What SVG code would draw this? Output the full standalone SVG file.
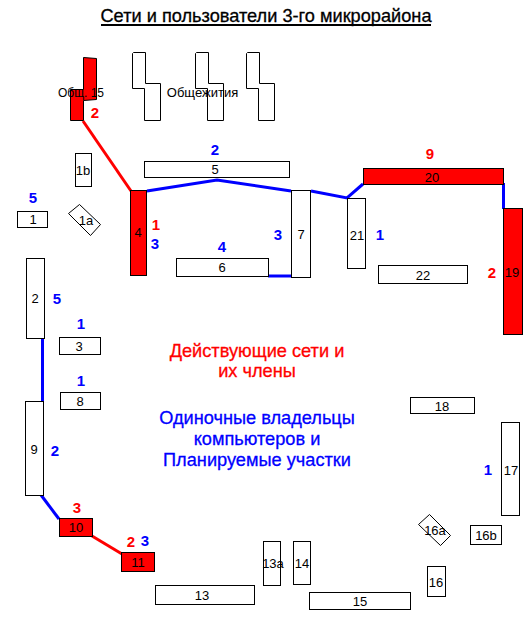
<svg xmlns="http://www.w3.org/2000/svg" width="531" height="620" viewBox="0 0 531 620">
<style>
text{font-family:"Liberation Sans",Arial,sans-serif;text-anchor:middle}
.n rect,.n polygon{fill:#fff;stroke:#000;stroke-width:1}
.r rect,.r polygon{fill:#f00}
.n text{font-size:13px;fill:#000}
.lb,.lr{font-size:15px;font-weight:bold}
.lb{fill:#00f}.lr{fill:#f00}
.big{font-size:18.2px;stroke-width:.3px}
.bb{fill:#00f;stroke:#00f}.br{fill:#f00;stroke:#f00}
.cb,.cr{fill:none;stroke-width:3}
.cb{stroke:#00f}.cr{stroke:#f00}
</style>
<rect width="531" height="620" fill="#fff"/>
<text id="title" class="big" x="266" y="22" fill="#000" stroke="#000">Сети и пользователи 3-го микрорайона</text>
<line x1="101" y1="25" x2="431" y2="25" stroke="#000" stroke-width="2"/>
<g id="connectors">
<path class="cr" d="M83 121L131 191"/>
<path class="cb" d="M147 191L217 180L291 191"/>
<path class="cb" d="M268 276H291"/>
<path class="cb" d="M311 191L347 198L363 184"/>
<path class="cb" d="M503.500 183V209"/>
<path class="cb" d="M42.500 339V402"/>
<path class="cb" d="M41 495L59 519"/>
<path class="cr" d="M92 536L122 554"/>
</g>
<g id="obsh15" class="n r"><polygon points="83.500,57.500 96.500,58.500 96.500,99.500 83.500,100.500 83.500,120.500 70.500,120.500 70.500,89.500 83.500,89.500"/><text x="81" y="97" style="font-size:12px">Общ. 15</text></g>
<g id="dorm1" class="n"><polygon points="132.500,53.500 133.500,52.500 145.500,52.500 145.500,83.500 160.500,83.500 160.500,120.500 144.500,120.500 144.500,88.500 132.500,88.500"/></g>
<g id="dorm2" class="n"><polygon points="195.500,53.500 196.500,52.500 208.500,52.500 208.500,83.500 223.500,83.500 223.500,120.500 207.500,120.500 207.500,88.500 195.500,88.500"/><text x="202.500" y="97">Общежития</text></g>
<g id="dorm3" class="n"><polygon points="246.500,53.500 247.500,52.500 259.500,52.500 259.500,83.500 274.500,83.500 274.500,120.500 258.500,120.500 258.500,88.500 246.500,88.500"/></g>
<g id="n1b" class="n"><rect x="75.500" y="153.500" width="16" height="33"/><text x="83" y="175">1b</text></g>
<g id="n5" class="n"><rect x="144.500" y="161.500" width="145" height="16"/><text x="215" y="174">5</text></g>
<g id="n1" class="n"><rect x="17.500" y="211.500" width="30" height="16"/><text x="33" y="224">1</text></g>
<g id="n1a" class="n"><polygon points="79.500,204.500 100.500,224.500 90.500,235.500 68.500,213.500"/><text x="86" y="225">1a</text></g>
<g id="n4" class="n r"><rect x="130.500" y="190.500" width="16" height="85"/><text x="138" y="237">4</text></g>
<g id="n6" class="n"><rect x="176.500" y="258.500" width="92" height="18"/><text x="222" y="272">6</text></g>
<g id="n7" class="n"><rect x="291.500" y="190.500" width="19" height="87"/><text x="301" y="239">7</text></g>
<g id="n21" class="n"><rect x="347.500" y="198.500" width="18" height="70"/><text x="357" y="240">21</text></g>
<g id="n20" class="n r"><rect x="363.500" y="168.500" width="140" height="16"/><text x="432" y="182">20</text></g>
<g id="n22" class="n"><rect x="378.500" y="265.500" width="89" height="18"/><text x="423" y="280">22</text></g>
<g id="n19" class="n r"><rect x="503.500" y="208.500" width="19" height="126"/><text x="512" y="277">19</text></g>
<g id="n2" class="n"><rect x="26.500" y="258.500" width="18" height="80"/><text x="35" y="303">2</text></g>
<g id="n3" class="n"><rect x="59.500" y="337.500" width="41" height="17"/><text x="79" y="351">3</text></g>
<g id="n8" class="n"><rect x="60.500" y="392.500" width="40" height="17"/><text x="80" y="406">8</text></g>
<g id="n9" class="n"><rect x="25.500" y="401.500" width="18" height="94"/><text x="34" y="454">9</text></g>
<g id="n10" class="n r"><rect x="59.500" y="518.500" width="33" height="18"/><text x="76" y="532">10</text></g>
<g id="n11" class="n r"><rect x="121.500" y="552.500" width="33" height="19"/><text x="138" y="567">11</text></g>
<g id="n13" class="n"><rect x="155.500" y="585.500" width="99" height="19"/><text x="202" y="600">13</text></g>
<g id="n13a" class="n"><rect x="263.500" y="541.500" width="17" height="44"/><text x="273" y="568">13a</text></g>
<g id="n14" class="n"><rect x="293.500" y="541.500" width="17" height="43"/><text x="302" y="568">14</text></g>
<g id="n15" class="n"><rect x="309.500" y="592.500" width="101" height="17"/><text x="360" y="606">15</text></g>
<g id="n16" class="n"><rect x="427.500" y="566.500" width="18" height="30"/><text x="436" y="587">16</text></g>
<g id="n16a" class="n"><polygon points="429.500,514.500 450.500,535.500 440.500,545.500 418.500,524.500"/><text x="435" y="535">16a</text></g>
<g id="n16b" class="n"><rect x="470.500" y="525.500" width="31" height="19"/><text x="486" y="540">16b</text></g>
<g id="n17" class="n"><rect x="501.500" y="422.500" width="18" height="93"/><text x="511" y="475">17</text></g>
<g id="n18" class="n"><rect x="410.500" y="397.500" width="64" height="16"/><text x="442" y="411">18</text></g>
<g id="labels">
<text class="lr" x="95" y="118">2</text>
<text class="lb" x="215" y="155">2</text>
<text class="lb" x="33" y="203">5</text>
<text class="lr" x="156" y="230">1</text>
<text class="lb" x="155" y="249">3</text>
<text class="lb" x="222" y="252">4</text>
<text class="lb" x="278" y="240">3</text>
<text class="lb" x="380" y="240">1</text>
<text class="lr" x="430" y="159">9</text>
<text class="lr" x="492" y="278">2</text>
<text class="lb" x="57" y="304">5</text>
<text class="lb" x="81" y="329">1</text>
<text class="lb" x="81" y="386">1</text>
<text class="lb" x="55" y="456">2</text>
<text class="lr" x="77" y="513">3</text>
<text class="lr" x="131" y="547">2</text>
<text class="lb" x="145" y="546">3</text>
<text class="lb" x="488" y="475">1</text>
<text class="big br" x="257" y="357">Действующие сети и</text>
<text class="big br" x="257" y="377">их члены</text>
<text class="big bb" x="257" y="424">Одиночные владельцы</text>
<text class="big bb" x="257" y="445">компьютеров и</text>
<text class="big bb" x="257" y="466">Планируемые участки</text>
</g>
</svg>
